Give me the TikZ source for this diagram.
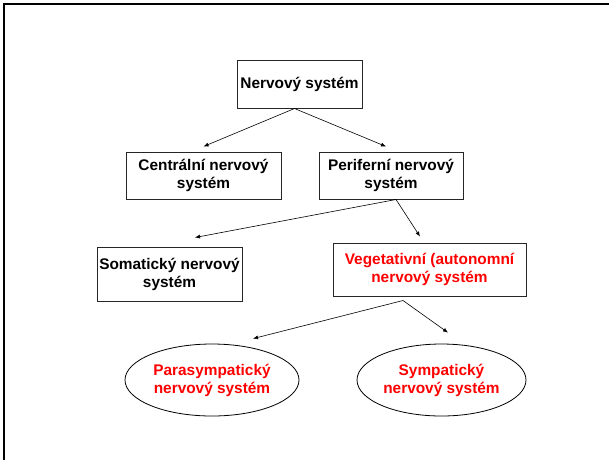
\documentclass[tikz,border=0pt]{standalone}
\usepackage{fontspec}
\setmainfont{Liberation Sans}
\usetikzlibrary{arrows.meta, shapes.geometric, positioning}
\tikzstyle{stdText} = [align=center, inner sep=0pt, font=\bfseries\fontsize{15.4}{18}\selectfont]
\tikzstyle{box} = [stdText, draw=black!85, line width=1pt, rectangle]
\tikzstyle{oval} = [stdText, draw=black, line width=.8pt, ellipse]
\tikzstyle{hot} = [text=red]
\tikzstyle{ar} = [-{Latex[length=5pt,width=4pt]}, line width=.6pt]

\begin{document}
\begin{tikzpicture}[x=1pt, y=-1pt, node distance=37pt]
    \useasboundingbox (0,0) rectangle (609,459);
    % frame of the slide
    \draw [line width=2pt] (4,470) -- (4,4) -- (620,4);

    % the boxes
    \node (nervovy) [box, minimum width=125pt, minimum height=48pt] at (299.5,84) {Nervový systém};
    \node (centralni) [box, minimum width=155pt, minimum height=47pt] at (203.5,175.5) {Centrální nervový \\ systém};
    \node (periferni) [box, minimum width=144pt, minimum height=47pt, right=of centralni] {Periferní nervový \\ systém};
    \node (somaticky) [box, minimum width=145pt, minimum height=54pt] at (169.5,274) {Somatický nervový \\ systém};
    \node (vegetativni) [box, hot, minimum width=193pt, minimum height=53pt] at (429.5,269.5) {Vegetativní (autonomní \\ nervový systém};

    % the ovals
    \node (para) [oval, hot, minimum width=174pt, minimum height=72pt] at (212,380) {Parasympatický \\ nervový systém};
    \node (sym) [oval, hot, minimum width=169pt, minimum height=72pt] at (441.5,380) {Sympatický \\ nervový systém};

    % arrow tips stop short of the boxes
    \coordinate (tipC) at ([yshift=5pt]centralni.north);
    \coordinate (tipP) at ([xshift=-5pt, yshift=5pt]periferni.north);
    \coordinate (tipS) at ([xshift=25.5pt, yshift=9pt]somaticky.north);
    \coordinate (tipV) at ([xshift=-9.5pt, yshift=6pt]vegetativni.north);
    \coordinate (tipPa) at ([xshift=41pt, yshift=5pt]para.north);
    \coordinate (tipSy) at ([xshift=6.5pt, yshift=11pt]sym.north);

    \draw [ar] ([xshift=-5pt]nervovy.south) -- (tipC);
    \draw [ar] ([xshift=-5pt]nervovy.south) -- (tipP);
    \draw [ar] ([xshift=5pt]periferni.south) -- (tipS);
    \draw [ar] ([xshift=5pt]periferni.south) -- (tipV);
    \draw [ar] ([xshift=-26.5pt, yshift=-4pt]vegetativni.south) -- (tipPa);
    \draw [ar] ([xshift=-26.5pt, yshift=-4pt]vegetativni.south) -- (tipSy);
\end{tikzpicture}
\end{document}
